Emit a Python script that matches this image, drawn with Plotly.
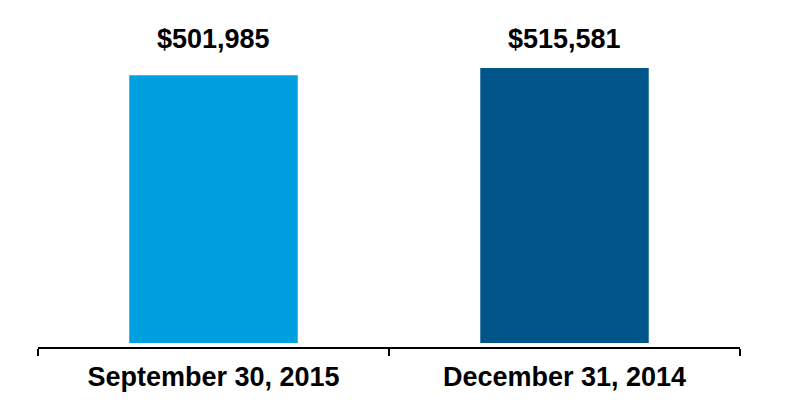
import plotly.graph_objects as go

categories = ["September 30, 2015", "December 31, 2014"]
values = [501985, 515581]
value_labels = ["$501,985", "$515,581"]
bar_colors = ["#00A0E0", "#00568A"]

fig = go.Figure()
fig.add_trace(go.Bar(
    x=categories, y=values, width=0.48,
    marker=dict(color=bar_colors, line=dict(width=0)),
    hoverinfo="skip",
))

for cat, lab in zip(categories, value_labels):
    fig.add_annotation(
        x=cat, y=0.942, xref="x", yref="paper",
        text=lab, showarrow=False, yanchor="middle",
        font=dict(family="Liberation Sans", size=27, color="black", weight="bold"),
    )

fig.update_layout(
    width=800, height=420,
    margin=dict(l=30, r=68, t=12, b=81),
    paper_bgcolor="white", plot_bgcolor="white",
    showlegend=False,
    xaxis=dict(
        range=[-0.5, 1.5], showline=True, linecolor="black", linewidth=2,
        ticks="outside", tickson="boundaries", ticklen=7, tickwidth=2, tickcolor="black",
        ticklabelstandoff=5,
        tickfont=dict(family="Liberation Sans", size=27, color="black", weight="bold"),
        showgrid=False, zeroline=False,
    ),
    yaxis=dict(
        range=[-7500, 605500], visible=False, showgrid=False, zeroline=False,
    ),
)

fig.write_html("out.html")
